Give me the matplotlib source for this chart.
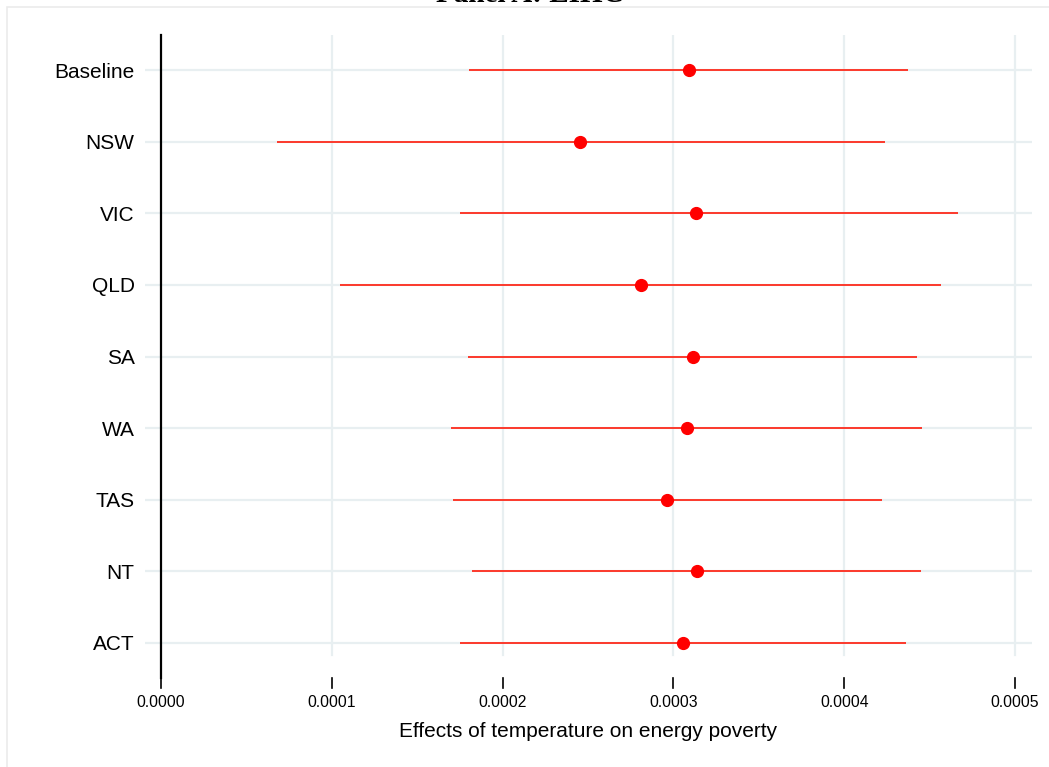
import matplotlib
matplotlib.use("Agg")
import matplotlib.pyplot as plt
from matplotlib.patches import Rectangle

plt.rcParams['font.family'] = ['Liberation Sans', 'DejaVu Sans']

# coefficient estimates and 95% CI
regions = ['Baseline', 'NSW', 'VIC', 'QLD', 'SA', 'WA', 'TAS', 'NT', 'ACT']
coef = [3.091e-4, 2.453e-4, 3.131e-4, 2.809e-4, 3.115e-4, 3.078e-4, 2.964e-4, 3.136e-4, 3.054e-4]
ci_lo = [1.805e-4, 0.677e-4, 1.751e-4, 1.048e-4, 1.799e-4, 1.698e-4, 1.711e-4, 1.821e-4, 1.749e-4]
ci_hi = [4.374e-4, 4.239e-4, 4.666e-4, 4.567e-4, 4.426e-4, 4.456e-4, 4.221e-4, 4.450e-4, 4.362e-4]
xticks = [0.0, 0.0001, 0.0002, 0.0003, 0.0004, 0.0005]

W, H = 1049, 767
fig = plt.figure(figsize=(W / 100, H / 100), dpi=100)

# light outer frame (only top/left edges fall inside the picture)
fig.patches.append(Rectangle((7 / W, -0.1), 1.2, 1 - 7 / H + 0.1, transform=fig.transFigure,
                             fill=False, edgecolor='#ebebeb', linewidth=1.2))

ax = fig.add_axes([145 / W, 1 - 678 / H, (1032 - 145) / W, (678 - 35) / H])
px = 0.0001 / 170.8
ax.set_xlim(-16 * px, 871 * px)
ax.set_ylim(len(regions) - 1 + 0.489, -0.489)

grid_col = '#e8eff1'
for v in xticks[1:]:
    ax.axvline(v, ymin=23 / 643, ymax=1, color=grid_col, lw=1.6, zorder=0)
for i in range(len(regions)):
    ax.axhline(i, color=grid_col, lw=1.6, zorder=0)

ys = list(range(len(regions)))
ax.hlines(ys, ci_lo, ci_hi, color='#ff1a0a', lw=1.2, zorder=2)
ax.plot(coef, ys, 'o', color='#ff0000', markersize=8.5, zorder=3)

for s in ['top', 'right']:
    ax.spines[s].set_visible(False)
ax.spines['left'].set_position(('data', 0))
ax.spines['left'].set_linewidth(1.6)
ax.spines['bottom'].set_color('none')

ax.set_yticks(ys)
ax.set_yticklabels(regions, fontsize=15)
ax.tick_params(axis='y', length=0, pad=19)

ax.set_xticks(xticks)
ax.set_xticklabels(['%.4f' % v for v in xticks], fontsize=11.3)
ax.tick_params(axis='x', length=0, pad=12)
# short ticks hanging below the plot region
for v in xticks:
    ax.plot([v, v], [0, -10 / 643], transform=ax.get_xaxis_transform(), color='black',
            lw=1.2, clip_on=False, zorder=4)

ax.set_xlabel('Effects of temperature on energy poverty', fontsize=15, labelpad=9)

# title sits mostly above the visible area, as in the source image
fig.text(0.505, 765.5 / H, 'Panel A: LIHC', ha='center', va='baseline',
         fontsize=21, fontweight='bold', family='Liberation Serif')

fig.savefig('out.png', dpi=100)
